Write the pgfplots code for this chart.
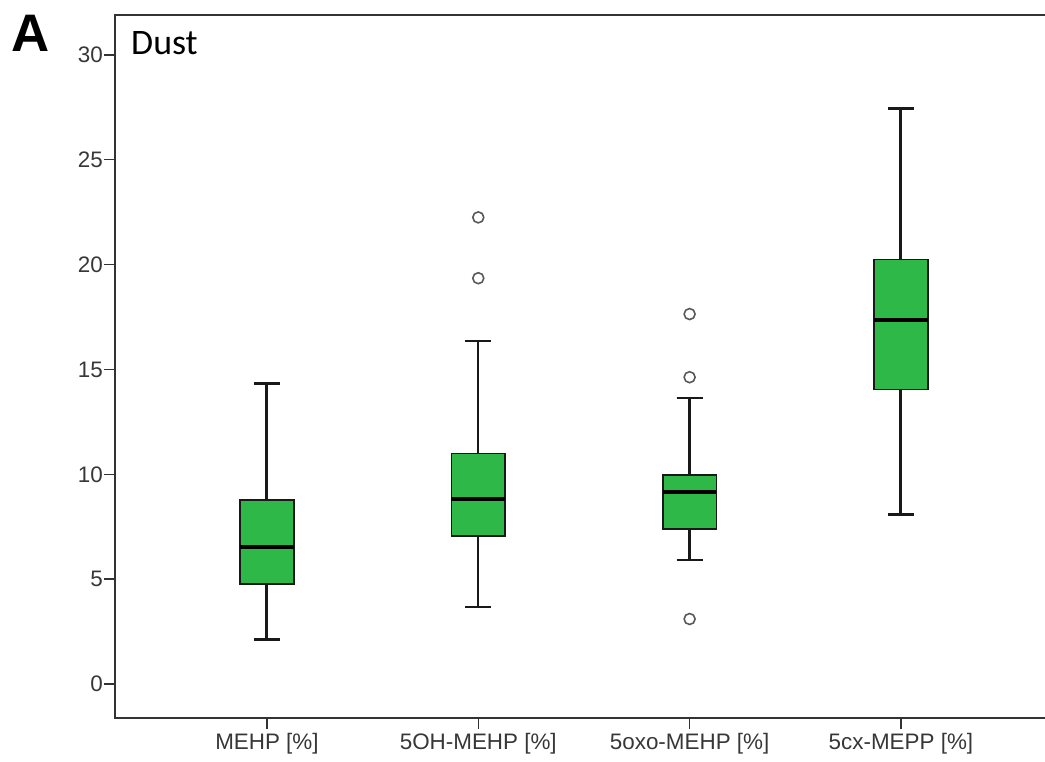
\documentclass[border=0pt]{standalone}
\usepackage{fontspec}
\setmainfont{Liberation Sans}
\newfontfamily\carlito{Carlito}
\usepackage{pgfplots}
\pgfplotsset{compat=1.18}
\usepgfplotslibrary{statistics}
\definecolor{boxgreen}{RGB}{46,184,72}
\definecolor{tickgray}{RGB}{55,55,55}
\begin{document}
\begin{tikzpicture}
\useasboundingbox (0,0) rectangle (1045bp,762bp);
\begin{axis}[
  at={(115bp,44bp)}, anchor=south west,
  scale only axis, width=940bp, height=703bp,
  xmin=-0.719, xmax=3.729, ymin=-1.62, ymax=31.9,
  xtick={0,1,2,3},
  xticklabels={MEHP [\%],5OH-MEHP [\%],5oxo-MEHP [\%],5cx-MEPP [\%]},
  ytick={0,5,...,30},
  tick pos=left,
  tick align=outside, major tick length=11bp,
  axis line style={line width=1.5bp, color=black!80},
  tick style={line width=1.5bp, color=black!80},
  tick label style={font=\fontsize{22.5}{25}\selectfont, color=tickgray},
  yticklabel style={inner xsep=1bp},
  xticklabel style={inner ysep=4bp},
  /pgf/number format/assume math mode=true,
  boxplot/draw direction=y,
  every axis plot/.append style={draw=black!90, line width=1.6bp, fill=boxgreen,
    mark=o, mark size=5.5bp, mark options={draw=black!65, line width=1.6bp, fill=none}},
  boxplot/every median/.style={line width=4.2bp, draw=black},
]
\addplot[boxplot prepared={lower whisker=2.13, lower quartile=4.77, median=6.52,
  upper quartile=8.77, upper whisker=14.33, draw position=0, box extend=0.254, whisker extend=0.123},
  boxplot/every whisker/.style={line width=3.0bp, draw=black!90}] coordinates {};
\addplot[boxplot prepared={lower whisker=3.69, lower quartile=7.07, median=8.82,
  upper quartile=11.0, upper whisker=16.37, draw position=1, box extend=0.254, whisker extend=0.123},
  boxplot/every whisker/.style={line width=2.2bp, draw=black!90}]
  table[row sep=\\, y index=0] {data\\ 22.25\\ 19.35\\};
\addplot[boxplot prepared={lower whisker=5.91, lower quartile=7.39, median=9.14,
  upper quartile=9.97, upper whisker=13.64, draw position=2, box extend=0.254, whisker extend=0.123},
  boxplot/every whisker/.style={line width=2.7bp, draw=black!90}]
  table[row sep=\\, y index=0] {data\\ 17.64\\ 14.63\\ 3.10\\};
\addplot[boxplot prepared={lower whisker=8.06, lower quartile=14.05, median=17.36,
  upper quartile=20.25, upper whisker=27.45, draw position=3, box extend=0.254, whisker extend=0.123},
  boxplot/every whisker/.style={line width=3.0bp, draw=black!90}] coordinates {};
\end{axis}
\node[anchor=base west, inner sep=0pt, font=\carlito\fontsize{36}{40}\selectfont] at (131bp,707bp) {Dust};
\node[anchor=base west, inner sep=0pt, font=\bfseries\fontsize{53}{56}\selectfont] at (11bp,710bp) {A};
\end{tikzpicture}
\end{document}
